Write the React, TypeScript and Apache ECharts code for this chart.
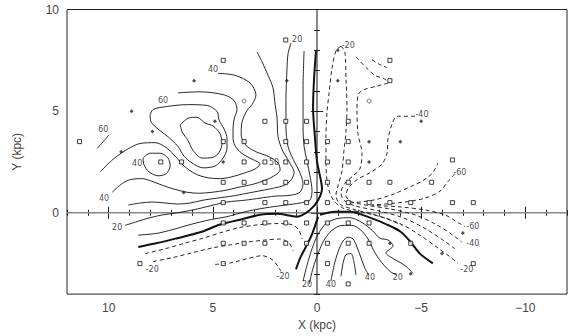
import React, { useEffect, useRef } from "react";
import * as echarts from "echarts";

// ---- axis ticks ----
const X_MAJOR = [-10, -5, 0, 5, 10];
const X_MINOR = [-12, -11, -10, -9, -8, -7, -6, -5, -4, -3, -2, -1, 0, 1, 2, 3, 4, 5, 6, 7, 8, 9, 10, 11, 12];
const Y_MAJOR = [0, 5, 10];
const Y_MINOR = [-4, -3, -2, -1, 0, 1, 2, 3, 4, 5, 6, 7, 8, 9, 10];

// ---- thick zero contour ----
const zeroA = [[0.05,7.96],[0.14,6.62],[0.19,5.18],[0.1,3.74],[0,2.54],[-0.19,1.58],[-0.24,1.2],[-0.05,0.62],[0.34,0.14],[0.96,-0.19],[1.92,-0.05],[2.73,-0.1],[3.69,-0.34],[4.65,-0.58],[5.61,-0.96],[6.71,-1.25],[7.67,-1.49],[8.58,-1.68]];
const zeroB = [[-0.14,-0.1],[-0.86,0.05],[-1.58,0.05],[-2.54,-0.24],[-3.36,-0.58],[-3.98,-0.91],[-4.46,-1.39],[-4.94,-2.01],[-5.56,-2.49]];
const zeroC = [[-0.05,-0.19],[0.24,-1.06],[0.58,-1.77],[0.82,-2.25],[1.01,-2.78]];

// ---- positive contours (solid) ----
const pos10 = [[0.62,7.96],[0.67,6.14],[0.67,4.22],[0.62,3.26],[0.48,2.54],[0.34,1.82],[0.24,1.1],[0.34,0.62],[0.82,0.48],[1.53,0.38],[2.49,0.24],[3.45,0.05],[4.32,-0.19],[5.13,-0.34],[6.09,-0.58],[6.91,-0.82],[7.67,-1.01],[8.58,-1.1]];
const pos20 = [[1.25,8.35],[1.39,7.82],[1.44,7.1],[1.49,5.52],[1.49,4.22],[1.39,3.26],[1.15,2.64],[0.86,2.06],[0.67,1.44],[0.82,1.01],[1.29,0.86],[2.01,0.82],[2.73,0.72],[3.45,0.62],[4.32,0.53],[5.13,0.34],[5.95,0.14],[6.71,0],[7.39,-0.1],[8.01,-0.24],[8.63,-0.43],[9.21,-0.62]];
const pos30 = [[9.06,0.38],[8.49,0.48],[7.87,0.53],[7.29,0.48],[6.67,0.43],[6.09,0.48],[5.47,0.62],[4.8,0.72],[4.08,0.82],[3.36,0.96],[2.64,1.1],[1.92,1.25],[1.49,1.39],[1.2,1.68],[1.1,2.01],[1.25,2.35],[1.44,2.69],[1.68,3.12],[1.87,3.74],[1.92,4.7],[2.01,5.32],[2.11,6.14],[2.35,6.76],[2.64,7.43],[2.88,7.91]];
const pos40 = [[4.75,6.86],[3.93,6.76],[3.21,6.38],[2.93,5.8],[3.12,5.32],[3.36,5.04],[3.6,4.46],[3.64,3.84],[3.45,3.36],[2.97,3.02],[2.35,2.78],[1.87,2.45],[1.77,2.11],[2.06,1.82],[2.54,1.58],[3.12,1.39],[3.79,1.25],[4.41,1.1],[5.04,1.01],[5.66,0.96],[6.23,1.01],[6.81,1.15],[7.39,1.34],[7.87,1.53],[8.39,1.68],[8.97,1.63],[9.35,1.44],[9.83,1.01]];
const pos50 = [[10.41,2.01],[9.78,2.64],[9.11,3.12],[8.49,3.41],[7.77,3.45],[7.19,3.17],[6.76,2.73],[6.38,2.3],[5.85,1.92],[5.28,1.73],[4.65,1.68],[4.08,1.77],[3.45,1.97],[2.97,2.16],[2.73,2.4],[3.12,2.64],[3.55,2.88],[3.88,3.21],[4.03,3.64],[4.03,4.12],[3.98,4.6],[3.84,5.08],[3.98,5.52],[4.46,5.8],[5.61,5.95],[6.67,5.9]];
const island40 = [[8.35,2.69],[8.01,2.93],[7.53,2.93],[7.15,2.69],[7.05,2.3],[7.24,1.92],[7.63,1.82],[8.06,2.01],[8.3,2.35],[8.35,2.69]];
const pos60 = [[8.01,4.8],[7.87,5.08],[7.19,5.23],[6.23,5.32],[5.28,5.28],[4.8,4.99],[4.7,4.56],[4.46,4.12],[4.32,3.64],[4.32,3.17],[4.51,2.69],[4.89,2.3],[5.47,2.21],[6.0,2.45],[6.38,2.78],[6.67,3.26],[7.15,3.74],[7.63,4.12],[7.96,4.46],[8.01,4.8]];
const pos80 = [[6.57,4.32],[6.19,4.65],[5.76,4.7],[5.37,4.41],[4.99,4.27],[4.65,3.88],[4.56,3.41],[4.7,2.97],[4.99,2.73],[5.52,2.69],[5.95,3.07],[6.19,3.55],[6.47,3.98],[6.57,4.32]];
const pos60far = [[9.98,3.84],[10.26,3.5],[10.55,3.17]];
const lowC10 = [[0.67,-3.36],[0.48,-2.59],[0.24,-1.77],[-0.05,-1.06],[-0.43,-0.53],[-0.96,-0.29],[-1.58,-0.24],[-2.16,-0.48],[-2.64,-0.86],[-3.02,-1.25],[-3.41,-1.34],[-3.65,-1.63],[-3.31,-1.97],[-3.65,-2.25],[-4.22,-2.59],[-4.6,-2.97]];
const lowC20 = [[0.38,-3.5],[0.19,-2.73],[-0.05,-2.01],[-0.34,-1.34],[-0.72,-0.86],[-1.2,-0.62],[-1.68,-0.62],[-2.11,-0.86],[-2.45,-1.29],[-2.73,-1.87],[-3.07,-2.4],[-3.5,-2.88],[-3.84,-3.07]];
const lowC40 = [[-0.67,-3.36],[-0.82,-2.59],[-1.01,-1.92],[-1.25,-1.39],[-1.49,-1.2],[-1.73,-1.29],[-1.92,-1.68],[-2.11,-2.21],[-2.3,-2.73],[-2.49,-3.07]];
const lowC60 = [[-1.15,-3.12],[-1.25,-2.49],[-1.39,-2.06],[-1.63,-2.01],[-1.77,-2.4],[-1.87,-3.07]];

// ---- negative contours (dashed) ----
const negLL1 = [[8.25,-2.01],[7.29,-1.77],[6.33,-1.49],[5.47,-1.25],[4.56,-0.96],[3.69,-0.72],[2.73,-0.58],[1.92,-0.53],[1.2,-0.58],[0.86,-0.86],[0.72,-1.29]];
const negLL2 = [[7.87,-2.4],[6.95,-2.21],[6.0,-1.97],[5.04,-1.73],[4.17,-1.58],[3.31,-1.44],[2.49,-1.34],[1.77,-1.29],[1.34,-1.49],[1.15,-1.87]];
const negLL3 = [[4.89,-2.54],[4.08,-2.45],[3.31,-2.25],[2.64,-2.11],[2.16,-2.3],[1.87,-2.64],[1.73,-2.88]];
const negRA = [[-1.15,8.2],[-0.91,7.96],[-0.72,7.1],[-0.58,5.9],[-0.48,4.94],[-0.43,3.74],[-0.43,2.54],[-0.48,1.58],[-0.62,0.96],[-0.86,0.53],[-1.34,0.19],[-2.3,0.0],[-3.26,-0.26],[-4.1,-0.62]];
const negRB = [[-1.15,8.2],[-1.34,7.91],[-1.39,6.62],[-1.44,5.18],[-1.39,3.98],[-1.29,3.02],[-1.2,2.06],[-1.01,1.34],[-0.91,0.86],[-1.1,0.43],[-1.68,0.19],[-2.78,-0.1],[-3.98,-0.53],[-4.94,-1.1],[-5.8,-1.73],[-6.38,-2.16],[-6.76,-2.49]];
const negD5 = [[-3.41,6.38],[-2.88,6.23],[-2.21,6.04],[-1.97,5.8],[-1.92,5.04],[-1.97,3.88],[-2.16,2.93],[-2.06,2.16],[-1.73,1.82],[-1.34,1.44],[-1.15,1.01],[-1.29,0.62],[-1.82,0.34],[-2.93,0.1],[-4.12,-0.24],[-5.18,-0.77],[-6.04,-1.34],[-6.62,-1.77]];
const neg40 = [[-4.7,4.75],[-3.84,4.75],[-3.6,4.36],[-3.41,3.64],[-3.36,2.93],[-3.12,2.4],[-2.54,1.97],[-1.92,1.63],[-1.53,1.25],[-1.39,0.86],[-1.58,0.58],[-2.35,0.38],[-3.5,0.19],[-4.7,-0.1],[-5.8,-0.62],[-6.52,-1.1],[-6.95,-1.44]];
const neg60 = [[-6.62,1.92],[-6.28,1.53],[-5.9,1.06],[-5.18,0.72],[-4.22,0.53],[-3.26,0.43],[-2.64,0.38],[-3.98,0.29],[-5.18,0.14],[-6.14,-0.1],[-6.76,-0.48],[-7.1,-0.67]];
const negU1 = [[-1.58,0.48],[-2.69,0.62],[-3.65,0.91],[-4.6,1.34],[-5.08,1.58],[-5.56,1.97],[-5.8,2.45]];
const negD3 = [[-1.87,7.67],[-2.4,7.1],[-2.78,6.76],[-3.17,6.62],[-3.41,6.47]];
const negD4 = [[-2.64,7.53],[-3.02,7.29],[-3.36,7.15]];

// ---- contour labels [x, y, text] ----
const contourLabels = [
  [10.26,4.08,"60"],[7.39,5.52,"60"],[8.63,2.4,"40"],[10.22,0.72,"40"],[9.59,-0.72,"20"],
  [7.91,-2.78,"-20"],[4.99,7.05,"40"],[0.95,8.54,"20"],[2.06,2.49,"50"],[-1.5,8.25,"-20"],
  [-5.04,4.84,"-40"],[-6.86,1.97,"-60"],[-7.48,-0.67,"-60"],[-7.48,-1.49,"-40"],[-7.19,-2.78,"-20"],
  [0.48,-3.55,"20"],[-0.67,-3.55,"40"],[-2.54,-3.17,"40"],[-3.88,-3.17,"20"],[1.63,-3.12,"-20"],
];

// ---- observed points ----
const squarePts = [
  [11.4,3.5],[1.5,8.5],[4.5,7.5],[2.5,4.5],[1.5,4.5],[0.5,4.5],[4.5,3.5],[3.5,3.5],[1.5,3.5],[0.5,3.5],
  [7.5,2.5],[6.5,2.5],[3.5,2.5],[2.5,2.5],[1.5,2.5],[0.5,2.5],[4.5,1.5],[3.5,1.5],[2.5,1.5],[1.5,1.5],[0.5,1.5],
  [4.5,0.5],[2.5,0.5],[1.5,0.5],[0.5,0.5],[4.5,-0.5],[3.5,-0.5],[2.5,-0.5],[1.5,-0.5],[0.5,-0.5],
  [4.5,-1.5],[3.5,-1.5],[2.5,-1.5],[1.5,-1.5],[0.5,-1.5],[8.5,-2.5],[4.5,-2.5],
  [-3.5,7.5],[-3.5,6.5],[-1.5,4.5],[-0.5,3.5],[-1.5,3.5],[-0.5,2.5],[-1.5,2.5],[-6.5,2.6],
  [-0.5,1.5],[-1.5,1.5],[-2.5,1.5],[-3.5,1.5],[-5.5,1.5],[-0.5,0.5],[-1.5,0.5],[-2.5,0.5],[-3.5,0.5],
  [-4.5,0.5],[-6.5,0.5],[-7.5,0.5],[-0.5,-0.5],[-1.5,-0.5],[-2.5,-0.5],[-0.5,-1.5],[-1.5,-1.5],
  [-2.5,-1.5],[-4.5,-1.5],[-7.5,-2.5],[-0.5,-2.5],[-1.5,-3.5],
];
const circlePts = [[3.5,5.5],[-2.5,5.5]];
const starPts = [
  [8.9,5.0],[7.9,4.0],[9.4,3.0],[5.9,6.5],[4.9,4.5],[1.45,6.5],[6.4,1.0],[4.5,2.5],
  [-1,8],[-1,6.5],[-2.5,3.5],[-4,3.5],[-5,4.5],[-2.5,2.5],[-7,-1],[-6,-2],[-4.5,-3],[-3.5,-1.5],
];

const hLine = [[-12,0],[12,0]];
const vLine = [[0,-4],[0,10]];

const FONT = "Liberation Sans";

function line(data: number[][], opts: { dashed?: boolean; width?: number; color?: string; smooth?: number } = {}) {
  return {
    type: "line",
    data,
    showSymbol: false,
    symbol: "none",
    smooth: opts.smooth ?? 0.3,
    silent: true,
    z: 3,
    lineStyle: {
      color: opts.color ?? "#111",
      width: opts.width ?? 0.9,
      type: opts.dashed ? [4, 3] : "solid",
    },
  };
}

function xAxisDef(position: string, ticks: number[], len: number, labels: boolean) {
  return {
    type: "value",
    min: -12,
    max: 12,
    inverse: true,
    position,
    axisLine: { show: false },
    splitLine: { show: false },
    axisTick: { show: true, inside: true, length: len, customValues: ticks, lineStyle: { color: "#222", width: 1 } },
    axisLabel: labels
      ? {
          show: true,
          customValues: ticks,
          margin: 8,
          fontSize: 12,
          color: "#444",
          fontFamily: FONT,
          formatter: (v: number) => (v < 0 ? "\u2212" + Math.abs(v) : String(v)),
        }
      : { show: false },
    name: labels ? "X (kpc)" : "",
    nameLocation: "middle",
    nameGap: 22,
    nameTextStyle: { fontSize: 12, color: "#444", fontFamily: FONT },
  };
}

function yAxisDef(position: string, ticks: number[], len: number, labels: boolean) {
  return {
    type: "value",
    min: -4,
    max: 10,
    position,
    axisLine: { show: false },
    splitLine: { show: false },
    axisTick: { show: true, inside: true, length: len, customValues: ticks, lineStyle: { color: "#222", width: 1 } },
    axisLabel: labels
      ? { show: true, customValues: ticks, margin: 8, fontSize: 12, color: "#444", fontFamily: FONT }
      : { show: false },
    name: labels ? "Y (kpc)" : "",
    nameLocation: "middle",
    nameGap: 44,
    nameTextStyle: { fontSize: 12, color: "#444", fontFamily: FONT },
  };
}

export default function App() {
  const ref = useRef<HTMLDivElement>(null);
  useEffect(() => {
    if (!ref.current) return;
    const chart = echarts.init(ref.current, null, { renderer: "svg" });
    const solids = [pos10, pos20, pos30, pos40, pos50, island40, pos60, pos80, pos60far, lowC10, lowC20, lowC40, lowC60];
    const dashes = [negLL1, negLL2, negLL3, negRA, negRB, negD5, neg40, neg60, negU1, negD3, negD4];
    const series: any[] = [
      { ...line(hLine, { color: "#888", width: 1.5, smooth: 0 }), z: 1 },
      { ...line(vLine, { color: "#111", width: 1, smooth: 0 }), z: 1 },
      ...solids.map((d) => line(d)),
      ...dashes.map((d) => line(d, { dashed: true })),
      line(zeroA, { width: 2 }),
      line(zeroB, { width: 2 }),
      line(zeroC, { width: 2 }),
      {
        type: "scatter",
        data: squarePts,
        symbol: "rect",
        symbolSize: 4,
        silent: true,
        z: 5,
        itemStyle: { color: "#fff", borderColor: "#111", borderWidth: 1 },
      },
      {
        type: "scatter",
        data: circlePts,
        symbol: "circle",
        symbolSize: 4,
        silent: true,
        z: 5,
        itemStyle: { color: "#fff", borderColor: "#555", borderWidth: 1 },
      },
      {
        type: "scatter",
        data: starPts,
        symbol: "diamond",
        symbolSize: 4,
        silent: true,
        z: 5,
        itemStyle: { color: "#222" },
      },
      {
        type: "scatter",
        data: contourLabels.map((l) => ({ value: [l[0], l[1]], name: l[2] })),
        symbolSize: 0,
        silent: true,
        z: 6,
        label: {
          show: true,
          position: "inside",
          formatter: (p: any) => p.name,
          fontSize: 8,
          color: "#111",
          fontFamily: "DejaVu Sans",
        },
      },
    ];
    chart.setOption({
      animation: false,
      backgroundColor: "#fff",
      grid: { left: 67, right: 3, top: 9.5, bottom: 34.6, show: true, borderColor: "#222", borderWidth: 1, backgroundColor: "transparent" },
      xAxis: [
        xAxisDef("bottom", X_MAJOR, 6, true),
        xAxisDef("bottom", X_MINOR, 3, false),
        xAxisDef("top", X_MAJOR, 6, false),
        xAxisDef("top", X_MINOR, 3, false),
      ],
      yAxis: [
        yAxisDef("left", Y_MAJOR, 6, true),
        yAxisDef("left", Y_MINOR, 3, false),
        yAxisDef("right", Y_MAJOR, 6, false),
        yAxisDef("right", Y_MINOR, 3, false),
      ],
      series,
    });
    return () => chart.dispose();
  }, []);
  return <div ref={ref} style={{ position: "fixed", left: 0, top: 0, width: 570, height: 336, background: "#fff" }} />;
}
